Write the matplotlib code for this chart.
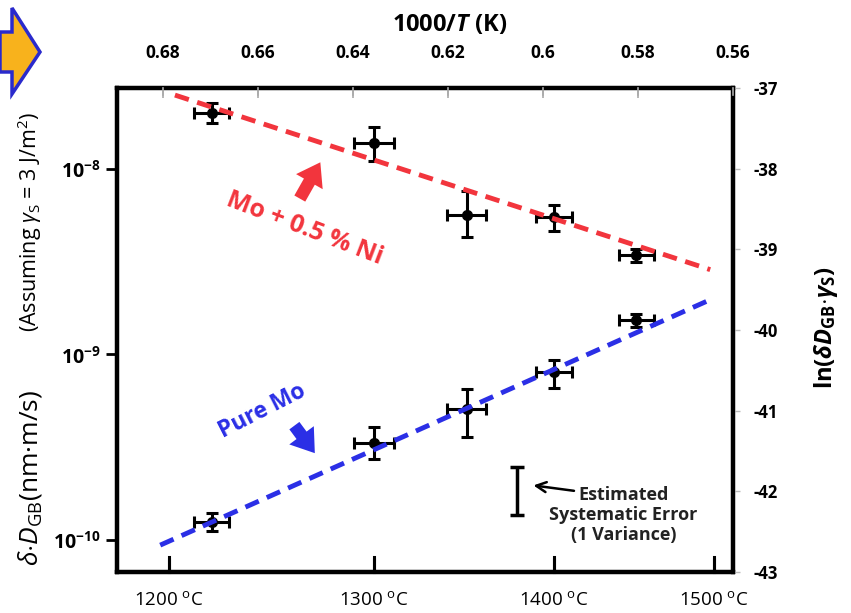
import numpy as np
import matplotlib
matplotlib.use("Agg")
import matplotlib.pyplot as plt
from matplotlib.patches import Polygon
from matplotlib.lines import Line2D
from matplotlib.ticker import NullLocator

plt.rcParams['font.family'] = ['Open Sans', 'DejaVu Sans']
plt.rcParams['mathtext.fontset'] = 'custom'
plt.rcParams['mathtext.rm'] = 'Open Sans'
plt.rcParams['mathtext.it'] = 'Open Sans:italic'
plt.rcParams['mathtext.bf'] = 'Open Sans:bold'
plt.rcParams['mathtext.bfit'] = 'Open Sans:bold:italic'

# measured points (temperatures in C, values in nm*m/s)
temps_c = np.array([1220, 1300, 1350, 1400, 1450])
xerr = np.array([0.0037, 0.0042, 0.0041, 0.0037, 0.0036])   # in 1000/T units

ni_val = np.array([2.0e-8, 1.38e-8, 5.65e-9, 5.5e-9, 3.44e-9])
ni_hi = np.array([2.26e-8, 1.68e-8, 7.6e-9, 6.4e-9, 3.71e-9])
ni_lo = np.array([1.77e-8, 1.10e-8, 4.30e-9, 4.63e-9, 3.16e-9])

mo_val = np.array([1.25e-10, 3.33e-10, 5.06e-10, 8.0e-10, 1.54e-9])
mo_hi = np.array([1.40e-10, 4.05e-10, 6.49e-10, 9.3e-10, 1.66e-9])
mo_lo = np.array([1.12e-10, 2.72e-10, 3.58e-10, 6.6e-10, 1.41e-9])

# fitted Arrhenius lines (end points, x in 1000/T)
ni_fit_x = [0.6775, 0.5648]
ni_fit_y = [2.49e-8, 2.86e-9]
mo_fit_x = [0.6806, 0.5648]
mo_fit_y = [9.4e-11, 1.97e-9]

# systematic error bar
sys_x = 0.6055
sys_lo, sys_hi = 1.36e-10, 2.47e-10

top_ticks = [0.68, 0.66, 0.64, 0.62, 0.60, 0.58, 0.56]
top_labels = ["0.68", "0.66", "0.64", "0.62", "0.6", "0.58", "0.56"]
bottom_temps = [1200, 1300, 1400, 1500]
right_ticks = [-43, -42, -41, -40, -39, -38, -37]

inv_T = 1000.0 / (temps_c + 273.15)
bottom_pos = [1000.0 / (t + 273.15) for t in bottom_temps]
xlim = (0.6897, 0.56)

W, H = 851, 613
fig = plt.figure(figsize=(W / 100, H / 100), dpi=100)
ax = fig.add_axes([117 / W, 1 - 572 / H, (733 - 117) / W, (572 - 88) / H])

ax.set_xlim(*xlim)
ax.set_yscale('log')
ax.set_ylim(1e-8 * np.exp(-5), 1e-8 * np.exp(1))

ax.errorbar(inv_T, ni_val, yerr=[ni_val - ni_lo, ni_hi - ni_val], xerr=xerr,
            fmt='o', color='black', ms=7, elinewidth=2.2, capsize=4, capthick=2.2, zorder=2)
ax.errorbar(inv_T, mo_val, yerr=[mo_val - mo_lo, mo_hi - mo_val], xerr=xerr,
            fmt='o', color='black', ms=7, elinewidth=2.2, capsize=4, capthick=2.2, zorder=2)

ax.plot(ni_fit_x, ni_fit_y, color='#f2353d', lw=3.5, dashes=(3, 1.8), zorder=3)
ax.plot(mo_fit_x, mo_fit_y, color='#2b2fe6', lw=3.5, dashes=(3, 1.8), zorder=3)

sys_c = np.sqrt(sys_lo * sys_hi)
ax.errorbar([sys_x], [sys_c], yerr=[[sys_c - sys_lo], [sys_hi - sys_c]], fmt='none',
            color='black', elinewidth=2.5, capsize=5, capthick=2.5)
ax.annotate("", xy=(0.6026, 1.98e-10), xytext=(0.5929, 1.835e-10),
            arrowprops=dict(arrowstyle='->', color='black', lw=1.8, mutation_scale=18))
ax.text(0.5831, 1.36e-10, "Estimated\nSystematic Error\n(1 Variance)", ha='center', va='center',
        fontsize=13, fontweight='bold', color='#222222', linespacing=1.15)

# series labels
ax.text(0.6502, 4.75e-9, "Mo + 0.5 % Ni", color='#f2353d', fontsize=18, fontweight='bold',
        rotation=-21, ha='center', va='center')
ax.annotate("", xy=(0.6466, 1.115e-8), xytext=(0.6515, 6.7e-9),
            arrowprops=dict(arrowstyle='simple,head_length=0.8,head_width=1.1,tail_width=0.45',
                            color='#f2353d', lw=0, mutation_scale=20))
ax.text(0.6590, 4.95e-10, "Pure Mo", color='#2b2fe6', fontsize=16.5, fontweight='bold',
        rotation=27, ha='center', va='center')
ax.annotate("", xy=(0.6477, 2.86e-10), xytext=(0.6527, 4.25e-10),
            arrowprops=dict(arrowstyle='simple,head_length=0.8,head_width=1.1,tail_width=0.45',
                            color='#2b2fe6', lw=0, mutation_scale=20))

# left axis
ax.set_yticks([1e-10, 1e-9, 1e-8],
              [r"$\mathbf{10^{-10}}$", r"$\mathbf{10^{-9}}$", r"$\mathbf{10^{-8}}$"])
ax.yaxis.set_minor_locator(NullLocator())
ax.tick_params(axis='y', direction='out', length=8, width=2, pad=4, labelsize=14)

# top axis: 1000/T
ax3 = ax.twiny()
ax3.set_xlim(*xlim)
ax3.set_xticks(top_ticks, top_labels)
ax3.tick_params(axis='x', which='major', top=True, direction='in', length=7, width=1.2,
                color='#aaaaaa', pad=19, labelsize=12.5)
for t in ax3.get_xticklabels():
    t.set_fontweight('bold')

# right axis: ln
ax2 = ax.twinx()
ax2.set_ylim(-43, -37)
ax2.set_yticks(right_ticks, [str(v) for v in right_ticks])
ax2.tick_params(axis='y', direction='out', length=5, width=1, color='#bbbbbb', pad=10,
                labelsize=12)
for t in ax2.get_yticklabels():
    t.set_fontweight('bold')

# bottom axis: temperature in C, placed at its 1000/T position
ax.set_xticks(bottom_pos, [str(t) + r" $^{\mathregular{o}}$C" for t in bottom_temps])
ax.tick_params(axis='x', which='major', bottom=True, direction='in', length=10, width=2.2,
               color='black', pad=14, labelsize=13.5)

for a in (ax, ax2, ax3):
    for s in a.spines.values():
        s.set_linewidth(3)
        s.set_color('black')

# inward tick marks as figure-level lines, drawn after all axes
xt = ax.get_xaxis_transform()
for p in bottom_pos:
    fig.add_artist(Line2D([p, p], [0, 0.03], transform=xt, color='black', lw=2.2, zorder=10))
for p in top_ticks:
    fig.add_artist(Line2D([p, p], [0.985, 1], transform=xt, color='#aaaaaa', lw=1.2, zorder=10))

# axis titles
fig.text(450 / W, 1 - 25 / H, r"1000/$\mathbfit{T}$ (K)", ha='center', va='center', fontsize=17,
         fontweight='bold')
fig.text(30 / W, 1 - 566 / H, r"$\delta{\cdot}D_{\mathregular{GB}}$(nm·m/s)", rotation=90,
         ha='center', va='bottom', fontsize=19)
fig.text(30 / W, 1 - 332 / H, r"(Assuming $\gamma_{\mathregular{S}}$ = 3 J/m$^2$)", rotation=90,
         ha='center', va='bottom', fontsize=15.5)
fig.text(826 / W, 1 - 328 / H,
         r"ln($\mathbfit{\delta D}_{\mathbf{GB}}{\cdot}\mathbfit{\gamma}_{\mathbf{S}}$)",
         rotation=90, ha='center', va='center', fontsize=17, fontweight='bold')

# partial orange arrow at top-left corner
pts = [(0, 32), (12, 32), (12, 8), (40, 52), (12, 94), (12, 72), (0, 72)]
fig.patches.append(Polygon([(x / W, 1 - y / H) for x, y in pts], closed=True,
                           transform=fig.transFigure, facecolor='#f8b21c',
                           edgecolor='#2a2acc', lw=2.5))

fig.savefig("out.png", dpi=100)
